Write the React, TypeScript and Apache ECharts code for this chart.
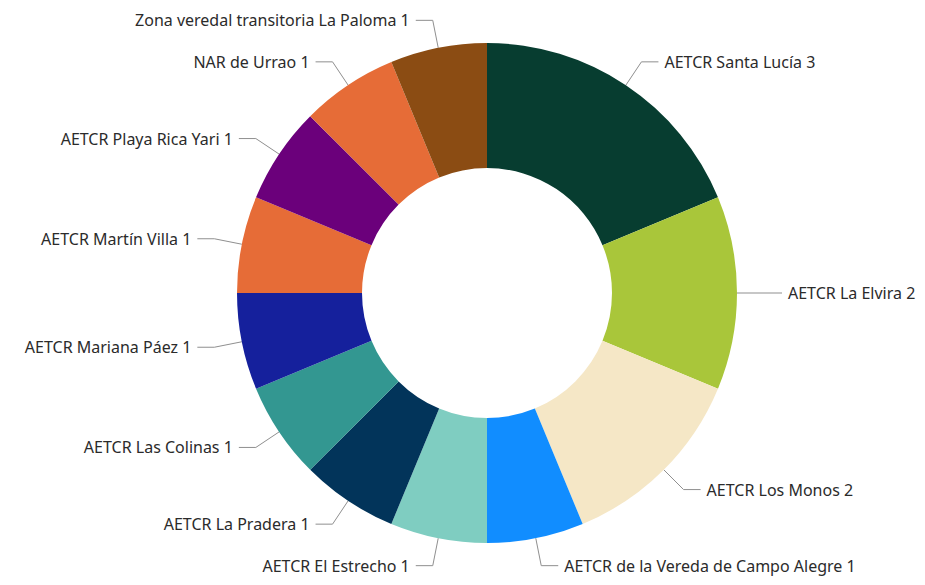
import React, { useEffect, useRef } from "react";
import * as echarts from "echarts";

const categories = [
  "AETCR Santa Lucía",
  "AETCR La Elvira",
  "AETCR Los Monos",
  "AETCR de la Vereda de Campo Alegre",
  "AETCR El Estrecho",
  "AETCR La Pradera",
  "AETCR Las Colinas",
  "AETCR Mariana Páez",
  "AETCR Martín Villa",
  "AETCR Playa Rica Yari",
  "NAR de Urrao",
  "Zona veredal transitoria La Paloma",
];
const values = [3, 2, 2, 1, 1, 1, 1, 1, 1, 1, 1, 1];
const colors = [
  "#073D30",
  "#A9C63A",
  "#F5E7C6",
  "#118DFF",
  "#7FCDC1",
  "#02345A",
  "#339791",
  "#15209C",
  "#E66C37",
  "#6B007B",
  "#E66C37",
  "#8B4C13",
];

export default function App() {
  const ref = useRef<HTMLDivElement>(null);
  useEffect(() => {
    if (!ref.current) return;
    const chart = echarts.init(ref.current, undefined, { renderer: "svg" });
    chart.setOption({
      animation: false,
      series: [
        {
          type: "pie",
          center: [487, 293],
          radius: [125, 250],
          startAngle: 90,
          clockwise: true,
          avoidLabelOverlap: true,
          data: categories.map((name, i) => ({
            name,
            value: values[i],
            itemStyle: { color: colors[i] },
          })),
          label: {
            show: true,
            position: "outside",
            formatter: "{b} {c}",
            color: "#2b2b2b",
            fontFamily: "Noto Sans",
            fontSize: 16,
            distanceToLabelLine: 6,
            overflow: "none",
          },
          labelLine: {
            show: true,
            length: 28,
            length2: 17,
            lineStyle: { color: "#8f8f8f", width: 1 },
          },
          emphasis: { disabled: true },
        },
      ],
    });
    return () => chart.dispose();
  }, []);
  return (
    <div
      ref={ref}
      style={{ position: "absolute", left: 0, top: 0, width: 925, height: 585, background: "#fff" }}
    />
  );
}
